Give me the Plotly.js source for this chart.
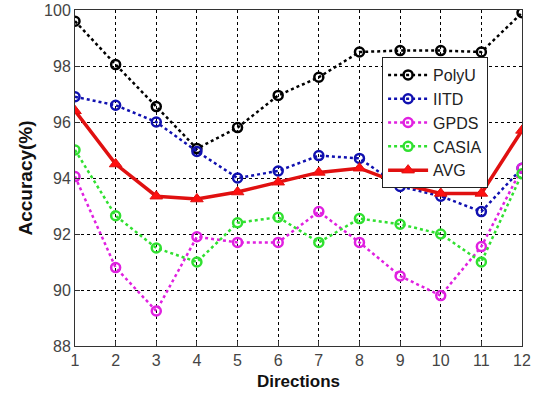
<!DOCTYPE html>
<html><head><meta charset="utf-8">
<script src="https://cdn.plot.ly/plotly-3.0.1.min.js"></script>
<style>html,body{margin:0;padding:0;background:#fff}#c{width:537px;height:396px}</style>
</head><body><div id="c"></div>
<script>
const directions = [1,2,3,4,5,6,7,8,9,10,11,12];
const polyU = [99.6, 98.05, 96.55, 95.05, 95.8, 96.95, 97.6, 98.5, 98.55, 98.55, 98.5, 99.9];
const iitd  = [96.9, 96.6, 96.0, 94.95, 94.0, 94.25, 94.8, 94.7, 93.7, 93.35, 92.8, 94.35];
const gpds  = [94.05, 90.8, 89.25, 91.9, 91.7, 91.7, 92.8, 91.7, 90.5, 89.8, 91.55, 94.35];
const casia = [95.0, 92.65, 91.5, 91.0, 92.4, 92.6, 91.7, 92.55, 92.35, 92.0, 91.0, 94.15];
const avg   = [96.4, 94.5, 93.35, 93.25, 93.5, 93.85, 94.2, 94.35, 93.8, 93.45, 93.45, 95.7];
const xTicks = [1,2,3,4,5,6,7,8,9,10,11,12];
const yTicks = [88,90,92,94,96,98,100];

function dotted(name, y, color) {
  return {x: directions, y: y, name: name, type: 'scatter', mode: 'lines+markers',
    line: {color: color, width: 2.5, dash: 'dot'},
    marker: {symbol: 'circle-open', size: 9, color: color, line: {color: color, width: 2.5}}};
}
const traces = [
  dotted('PolyU', polyU, '#000000'),
  dotted('IITD', iitd, '#1010b0'),
  dotted('GPDS', gpds, '#e020e0'),
  dotted('CASIA', casia, '#30e030'),
  {x: directions, y: avg, name: 'AVG', type: 'scatter', mode: 'lines+markers',
   line: {color: '#e01010', width: 3.5},
   marker: {symbol: 'triangle-up', size: 11, color: '#ff1010', line: {color: '#e01010', width: 1}}}
];
const font = {family: 'Liberation Sans, Arial, sans-serif', color: '#222'};
const layout = {
  width: 537, height: 396,
  margin: {l: 75, r: 15, t: 10, b: 50},
  paper_bgcolor: '#fff', plot_bgcolor: '#fff',
  font: font,
  showlegend: true,
  legend: {x: 0.687, y: 0.86, xanchor: 'left', yanchor: 'top',
    bgcolor: '#fff', bordercolor: '#222', borderwidth: 1,
    font: {family: font.family, size: 16, color: '#222'}, itemwidth: 40,
    entrywidth: 56, entrywidthmode: 'pixels',
    tracegroupgap: 0},
  xaxis: {range: [1, 12], tickvals: xTicks, ticktext: xTicks.map(String),
    showgrid: true, gridcolor: '#000', griddash: 'dot', gridwidth: 1,
    showline: true, mirror: true, linecolor: '#333', linewidth: 1,
    ticks: 'inside', ticklen: 5, tickcolor: '#333', zeroline: false,
    tickfont: {size: 16, color: '#444'},
    title: {text: '<b>Directions</b>', font: {size: 17, color: '#111'}, standoff: 6}},
  yaxis: {range: [88, 100], tickvals: yTicks, ticktext: yTicks.map(String),
    showgrid: true, gridcolor: '#000', griddash: 'dot', gridwidth: 1,
    showline: true, mirror: true, linecolor: '#333', linewidth: 1,
    ticks: 'inside', ticklen: 5, tickcolor: '#333', zeroline: false,
    tickfont: {size: 16, color: '#444'},
    title: {text: '<b>Accuracy(%)</b>', font: {size: 19, color: '#111'}, standoff: 6}}
};
Plotly.newPlot('c', traces, layout, {displayModeBar: false, staticPlot: true});
</script></body></html>
